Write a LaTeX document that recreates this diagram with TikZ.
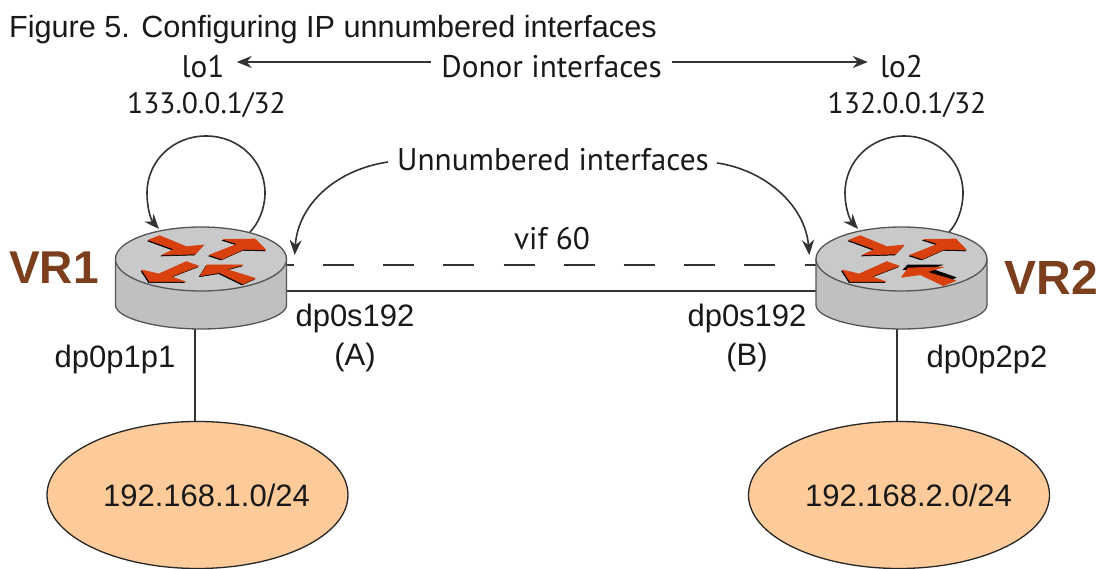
\documentclass[tikz,border=0pt]{standalone}
\usepackage{fontspec}
\setmainfont{Liberation Sans}
\newfontfamily\myr{PT Sans}
\usetikzlibrary{arrows.meta,shapes.geometric}
\definecolor{netfill}{HTML}{FDCB9A}
\definecolor{topgray}{HTML}{C9C9C9}
\definecolor{sidegray}{HTML}{C0C0C0}
\definecolor{edgegray}{HTML}{555555}
\definecolor{arrowred}{HTML}{D8400E}
\definecolor{vrbrown}{HTML}{7B3F1D}
\definecolor{linegray}{HTML}{333333}
\tikzset{
  lab/.style={inner sep=0pt,font=\fontsize{31}{34}\selectfont,text=black!90},
  labm/.style={inner sep=0pt,font=\myr\fontsize{31.3}{34}\selectfont,text=black!90},
  labn/.style={inner sep=0pt,font=\myr\fontsize{29.6}{32}\selectfont,text=black!90},
  vrlab/.style={inner sep=0pt,font=\bfseries\fontsize{46}{50}\selectfont,text=vrbrown},
  net/.style={ellipse,draw=black!85,line width=1.3pt,fill=netfill,minimum width=301pt,minimum height=147pt,inner sep=0pt},
  rtop/.style={ellipse,draw=edgegray,line width=1.3pt,fill=topgray,minimum width=171pt,minimum height=64pt,inner sep=0pt},
  rbox/.style={rectangle,minimum width=171pt,minimum height=102pt,inner sep=0pt},
  wire/.style={draw=linegray,line width=2.2pt},
  call/.style={draw=linegray,line width=1.6pt,-{Stealth[length=15pt,width=12pt]}},
  loopline/.style={draw=linegray,line width=1.6pt},
  redarrow/.style={fill=arrowred,draw=arrowred,line width=0.6pt,line join=round},
  blackarrow/.style={fill=black,draw=black,line width=0.6pt,line join=round,shift={(-3,3)}},
}
\newcommand{\routerside}{
  \path[fill=sidegray,draw=edgegray,line width=1.3pt] (-85.5,0) -- (-85.5,46) .. controls (-85.5,59) and (-45,70) .. (0,70) .. controls (45,70) and (85.5,59) .. (85.5,46) -- (85.5,0) -- cycle;
}
\newcommand{\arrA}{(145,210) -- (178,197) -- (258,230) -- (310,225) -- (285,252) -- (185,255) -- (222,238) -- cycle}
\newcommand{\arrB}{(328,255) -- (412,222) -- (368,208) -- (465,207) -- (497,240) -- (430,238) -- (365,267) -- cycle}
\newcommand{\arrC}{(258,275) -- (175,312) -- (125,300) -- (148,335) -- (255,335) -- (212,320) -- (295,288) -- cycle}
\newcommand{\arrD}{(300,317) -- (320,285) -- (428,285) -- (378,298) -- (465,325) -- (428,342) -- (358,308) -- cycle}
\newcommand{\arrDb}{(302,322) -- (322,294) -- (428,291) -- (378,306) -- (465,332) -- (428,347) -- (358,314) -- cycle}
\begin{document}
\begin{tikzpicture}[x=1pt,y=-1pt]
\useasboundingbox (0,0) rectangle (1101,569);
% routers
\node[rbox] (vr1) at (201,278) {};
\node[rbox] (vr2) at (901.5,278) {};
% networks
\node[net] (net1) at (197.5,495) {};
\node[net] (net2) at (899,495) {};
% wires
\draw[wire] ([xshift=-6pt]vr1.south) -- ([xshift=-2.5pt]net1.north);
\draw[wire] ([xshift=-4.5pt]vr2.south) -- ([xshift=-2pt]net2.north);
\draw[wire] ([yshift=-13pt]vr1.east) -- ([yshift=-13pt]vr2.west);
\draw[wire,dash pattern=on 31pt off 29.2pt,dash phase=24pt] ([yshift=13pt]vr1.east) -- ([yshift=13pt]vr2.west);
% router 1
\begin{scope}[shift={(201,259)}]
  \routerside
  \node[rtop] (vr1top) at (0,0) {};
\end{scope}
\begin{scope}[shift={(201,259)},x=0.3333pt,y=-0.3333pt,shift={(-302,-267)}]
  \path[blackarrow] \arrA; \path[redarrow] \arrA;
  \path[blackarrow] \arrB; \path[redarrow] \arrB;
  \path[blackarrow] \arrC; \path[redarrow] \arrC;
  \path[blackarrow] \arrD; \path[redarrow] \arrD;
\end{scope}
% router 2
\begin{scope}[shift={(901.5,259)}]
  \routerside
  \node[rtop] (vr2top) at (0,0) {};
\end{scope}
\begin{scope}[shift={(901.5,259)},x=0.3333pt,y=-0.3333pt,shift={(-302,-267)}]
  \path[blackarrow] \arrA; \path[redarrow] \arrA;
  \path[blackarrow] \arrB; \path[redarrow] \arrB;
  \path[blackarrow] \arrC; \path[redarrow] \arrC;
  \fill[black] (305,300) -- (320,284) -- (428,284) -- (395,297) -- (467,322) -- (445,336) -- (360,300) -- cycle;
  \path[redarrow] \arrDb;
\end{scope}
% texts
\node[lab,anchor=base west,font=\fontsize{30.6}{34}\selectfont] (title) at (9,38) {Figure 5. Configuring IP unnumbered interfaces};
\node[labm] (lo1) at (203,67) {lo1};
\node[labn] (ip1) at (206.5,105) {133.0.0.1/32};
\node[labm] (donor) at (551.5,67) {Donor interfaces};
\node[labm] (lo2) at (901.5,67) {lo2};
\node[labn] (ip2) at (907,105) {132.0.0.1/32};
\node[labm] (unn) at (553,160) {Unnumbered interfaces};
\node[labm] (vif) at (552,239) {vif 60};
\node[lab] (pa) at (355,318) {dp0s192};
\node[lab] (a) at (355,357) {(A)};
\node[lab] (pb) at (747,318) {dp0s192};
\node[lab] (b) at (747,357) {(B)};
\node[lab] (p1) at (115,359) {dp0p1p1};
\node[lab] (p2) at (987,359) {dp0p2p2};
\node[vrlab] (vr1t) at (54,268) {VR1};
\node[vrlab,font=\bfseries\fontsize{48}{50}\selectfont] (vr2t) at (1051.5,278) {VR2};
\node[lab] (n1) at (206.5,495) {192.168.1.0/24};
\node[lab] (n2) at (908.5,495) {192.168.2.0/24};
% donor arrows
\coordinate (dl) at ([xshift=-10pt,yshift=5pt]donor.west);
\coordinate (dr) at ([xshift=10pt,yshift=5pt]donor.east);
\coordinate (le) at ([xshift=12pt]lo1.east);
\coordinate (re) at ([xshift=-12pt]lo2.west);
\draw[call] (dl) -- (le |- dl);
\draw[call] (dr) -- (re |- dr);
% unnumbered curved
\draw[call] ([xshift=-9pt,yshift=-2pt]unn.west) .. controls (335,170) and (298,205) .. ([xshift=7.5pt,yshift=4pt]vr1top.east);
\draw[call] ([xshift=8pt,yshift=-3pt]unn.east) .. controls (765,170) and (805,205) .. ([xshift=-6pt,yshift=4pt]vr2top.west);
% loops
\draw[loopline,-{Stealth[length=15pt,width=12pt]}] (250,232) .. controls (258,224) and (265,209) .. (265,193) .. controls (265,161) and (239,136) .. (206,136) .. controls (173,136) and (147,161) .. (147,193) .. controls (147,208) and (151,220) .. (159,229);
\draw[loopline,-{Stealth[length=15pt,width=12pt]}] (949,232) .. controls (957,224) and (963,209) .. (963,193) .. controls (963,161) and (937,136) .. (904,136) .. controls (871,136) and (845,161) .. (845,193) .. controls (845,208) and (850,220) .. (858,229);
\end{tikzpicture}
\end{document}
